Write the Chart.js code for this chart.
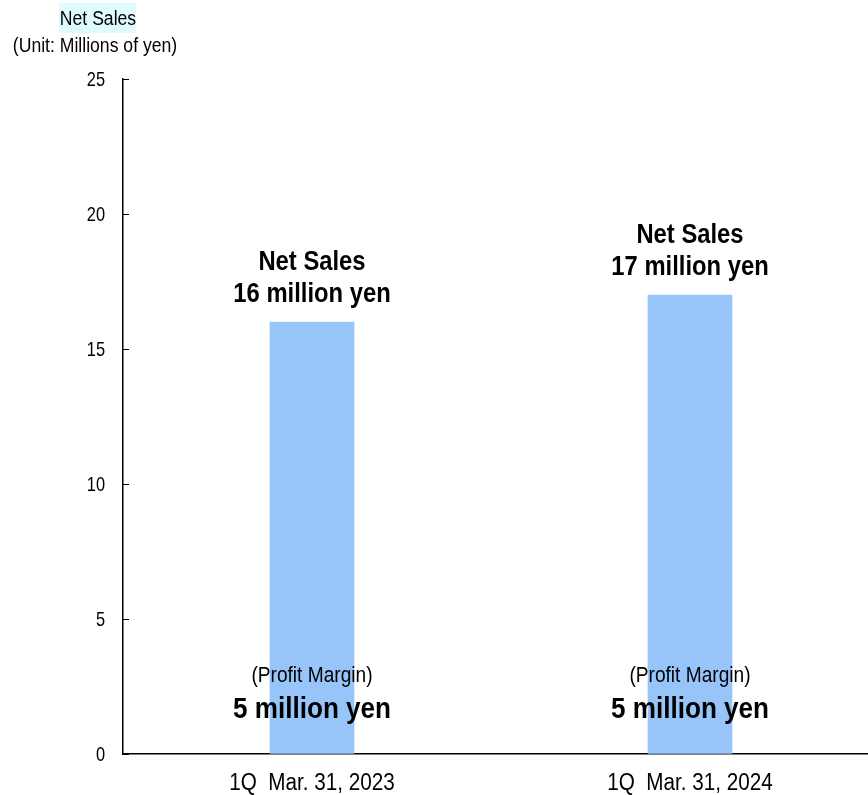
<!DOCTYPE html>
<html>
<head>
<meta charset="utf-8">
<script src="https://cdn.jsdelivr.net/npm/chart.js@4"></script>
<style>
  html, body { margin: 0; padding: 0; background: #fff; overflow: hidden; }
  #wrap { width: 868px; height: 795px; overflow: hidden; position: relative; }
  #wrap canvas { position: absolute; left: 0; top: 0; }
</style>
</head>
<body>
<div id="wrap"><canvas id="myChart" width="879" height="795"></canvas></div>
<script>
// quarter labels and values (millions of yen)
const quarters = ['1Q  Mar. 31, 2023', '1Q  Mar. 31, 2024'];
const netSales = [16, 17];
const profit = [5, 5];
const yTicks = [0, 5, 10, 15, 20, 25];

const FONT = '"Liberation Sans", Arial, sans-serif';

// condensed text: squeeze horizontally around the anchor point
function narrowText(ctx, text, x, y, font, sx, align) {
    ctx.save();
    ctx.font = font;
    ctx.textAlign = align || 'center';
    ctx.textBaseline = 'middle';
    ctx.translate(x, y);
    ctx.scale(sx, 1);
    ctx.fillText(text, 0, 0);
    ctx.restore();
}

// title, ticks, tick labels and text around the bars
const labelPlugin = {
    id: 'labels',
    afterDraw(chart) {
        const ctx = chart.ctx;
        const xs = chart.scales.x;
        const y = chart.scales.y;
        const left = chart.chartArea.left;
        const zero = y.getPixelForValue(0);

        ctx.save();
        ctx.fillStyle = '#000';

        // small inward ticks + labels on the value axis
        ctx.strokeStyle = '#000';
        ctx.lineWidth = 1;
        yTicks.forEach(v => {
            let py = Math.round(y.getPixelForValue(v)) + 0.5;
            ctx.beginPath();
            ctx.moveTo(left, py);
            ctx.lineTo(left + 6, py);
            ctx.stroke();
            narrowText(ctx, String(v), left - 18, py + 1, '21px ' + FONT, 0.78, 'right');
        });

        // category labels under the axis
        quarters.forEach((q, i) => {
            narrowText(ctx, q, xs.getPixelForValue(i), zero + 30, '23px ' + FONT, 0.9);
        });

        // header
        ctx.fillStyle = '#e0fbfb';
        ctx.fillRect(59, 3, 77, 30);
        ctx.fillStyle = '#000';
        narrowText(ctx, 'Net Sales', 98, 19, '20px ' + FONT, 0.88);
        narrowText(ctx, '(Unit: Millions of yen)', 95, 46, '20px ' + FONT, 0.88);

        // labels above and inside each bar
        const meta = chart.getDatasetMeta(0);
        meta.data.forEach((bar, i) => {
            narrowText(ctx, 'Net Sales', bar.x, bar.y - 60, 'bold 28px ' + FONT, 0.85);
            narrowText(ctx, netSales[i] + ' million yen', bar.x, bar.y - 28, 'bold 28px ' + FONT, 0.85);
            narrowText(ctx, '(Profit Margin)', bar.x, zero - 78, '22px ' + FONT, 0.87);
            narrowText(ctx, profit[i] + ' million yen', bar.x, zero - 44, 'bold 30px ' + FONT, 0.87);
        });
        ctx.restore();
    }
};

myChart = new Chart(document.getElementById('myChart'), {
    type: 'bar',
    data: {
        labels: quarters,
        datasets: [{
            label: 'Net Sales',
            data: netSales,
            backgroundColor: '#97c5fa',
            borderWidth: 0,
            barThickness: 84
        }]
    },
    options: {
        responsive: false,
        animation: false,
        layout: { padding: { top: 79, left: 0, right: 0, bottom: 0 } },
        plugins: {
            legend: { display: false },
            tooltip: { enabled: false }
        },
        scales: {
            x: {
                grid: { drawOnChartArea: false, drawTicks: false },
                border: { display: true, color: '#000', width: 1.5 },
                ticks: { display: false },
                afterFit(s) { s.height = 41; }
            },
            y: {
                min: 0,
                max: 25,
                grid: { drawOnChartArea: false, drawTicks: false },
                border: { display: true, color: '#000', width: 1.5 },
                ticks: { display: false, stepSize: 5 },
                afterFit(s) { s.width = 123; }
            }
        }
    },
    plugins: [labelPlugin]
});
</script>
</body>
</html>
